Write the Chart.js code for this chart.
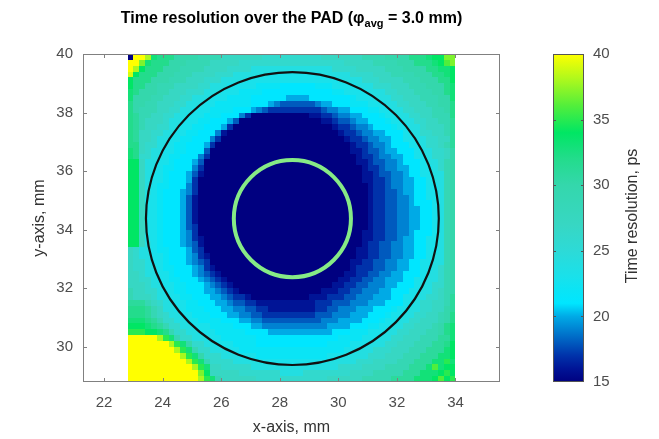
<!DOCTYPE html>
<html>
<head>
<meta charset="utf-8">
<title>Time resolution over the PAD</title>
<script src="https://cdn.jsdelivr.net/npm/chart.js@4.4.1/dist/chart.umd.min.js"></script>
<style>
  html, body { margin: 0; padding: 0; background: #fff; }
  #box { position: relative; width: 659px; height: 439px; }
</style>
</head>
<body>
<div id="box"><canvas id="padChart" width="659" height="439"></canvas></div>
<script>
// == 데이터 == //
const X_TICKS = [22, 24, 26, 28, 30, 32, 34];
const Y_TICKS = [30, 32, 34, 36, 38, 40];
const CB_TICKS = [15, 20, 25, 30, 35, 40];

// map cells: 56 x 56 cells of 0.2 mm, x from 22.8 mm, rows from y = 40 mm downward
const CELL_X0 = 22.8;
const CELL_Y0 = 40.0;
const CELL_SIZE = 0.2;
// run-length rows: level char + count; '0' = 15 ps ... 'p' = 40 ps (1 ps per step)
const LEVELS = '0123456789abcdefghijklmnop';
const LEVEL_MIN = 15;
const MAP_ROWS = [
  '01 p2 n1 i1 h3 f4 e4 c7 b10 c7 e4 f4 h3 i1 j2 m2',
  'p2 m1 i1 h3 f3 e4 c5 b18 c5 e4 f3 h3 i1 j1 l1 m1',
  'p1 n1 j1 h3 f3 e4 c4 b4 914 b4 c5 e3 f4 h2 i2 j1',
  'o1 j1 h3 f3 e3 c4 b3 96 89 95 b4 c3 e4 f3 h2 i1 j1',
  'j1 h3 f3 e3 c3 b3 94 816 94 b3 c4 e3 f3 h2 j1',
  'j1 h2 f2 e3 c4 b2 93 85 74 66 73 84 93 b3 c3 e3 f3 h1 i1',
  'i1 h1 f3 e2 c3 b3 93 83 74 612 72 84 93 b2 c3 e3 f2 h1 i1',
  'i1 f3 e2 c3 b2 93 83 74 66 54 67 71 83 93 b2 c3 e3 f2 i1',
  'h1 f2 e2 c3 b2 93 82 76 63 51 41 36 41 52 63 73 83 92 b2 c3 e2 f2 h1',
  'h1 f1 e3 c2 b2 92 83 74 63 51 41 31 29 31 42 52 63 72 82 92 b2 c3 e2 f1 h1',
  'h1 g1 e2 c2 b2 92 83 73 63 41 21 010 12 22 31 42 52 63 71 82 92 b2 c2 e3 h1',
  'h1 g1 e1 c3 b1 92 83 72 63 51 31 014 12 21 32 41 52 63 71 82 92 b2 c2 e2 g1',
  'h1 g1 e1 c2 b2 92 82 72 63 51 21 017 11 22 31 42 51 63 71 82 92 b1 c3 e1 g1',
  'h1 g1 c2 b2 92 82 72 63 41 11 019 11 22 31 42 52 63 81 92 b2 c2 e1 g1',
  'h1 g1 c2 b1 92 82 72 63 41 21 021 11 22 31 42 52 62 82 92 b2 c2 g1',
  'h2 c1 b2 92 81 72 63 51 21 023 11 22 31 42 51 63 82 91 b2 c1 e1 g1',
  'i1 h1 c1 b1 92 82 72 63 31 024 12 21 32 41 52 63 81 92 b2 c1 f1',
  'i1 h1 b2 92 81 72 63 41 21 025 11 22 31 42 52 62 82 91 b2 c1 f1',
  'j2 c1 92 82 71 63 51 31 026 12 21 32 42 51 63 81 92 b1 e1 f1',
  'j2 c1 92 81 72 63 41 21 027 11 22 31 42 52 62 82 91 b1 e1 f1',
  'j2 c1 91 82 71 63 51 31 11 027 12 21 32 42 51 62 82 92 e1 f1',
  'j2 c1 91 82 71 63 51 21 028 12 22 31 42 52 62 81 92 e1 f1',
  'j2 c1 91 81 72 63 41 21 029 11 22 31 42 52 62 82 91 e1 f1',
  'j2 c1 91 81 71 63 51 41 21 029 11 22 32 41 52 62 82 91 e1 f1',
  'j2 c1 82 71 63 51 31 11 029 11 22 32 42 51 62 82 91 e1 f1',
  'j2 c1 82 71 63 51 31 11 029 11 22 32 42 51 63 81 91 e1 f1',
  'j2 c1 82 71 63 51 31 11 029 11 22 32 42 52 62 81 91 e1 f1',
  'j2 c1 82 71 63 51 31 11 029 11 22 32 42 52 62 81 91 e1 f1',
  'j2 c1 82 71 63 51 31 11 029 11 22 32 42 52 62 81 91 e1 f1',
  'j2 c1 82 71 63 51 31 21 029 11 22 32 42 52 62 81 91 e1 f1',
  'j2 c1 82 71 63 51 41 21 028 12 22 32 42 51 63 81 91 e1 f1',
  'j2 c1 82 71 63 51 41 21 11 027 12 22 32 41 52 62 82 91 e1 f1',
  'j2 c1 91 81 71 63 51 41 31 11 027 11 22 32 42 52 62 82 91 e1 f1',
  'c1 b1 92 81 72 63 51 31 21 026 12 22 32 42 52 62 82 91 e1 f1',
  'c1 b1 92 82 71 63 51 41 21 11 025 12 22 32 42 52 62 81 92 e1 f1',
  'c1 b2 91 82 71 63 51 41 31 21 024 12 22 32 42 52 62 82 92 e1 f1',
  'c1 b2 92 81 72 63 51 41 21 11 023 11 23 32 42 52 62 82 91 b1 e1 f1',
  'c2 b1 92 82 71 63 51 41 31 21 11 021 12 22 32 42 52 63 81 92 b1 e1 f1',
  'c2 b2 91 82 72 63 51 41 31 21 11 019 12 22 32 42 53 62 82 92 b1 e1 f1',
  'c3 b1 92 82 72 63 51 41 31 21 11 017 12 22 32 43 52 63 81 92 b2 e1 f1',
  'e1 c2 b2 91 82 72 63 52 41 31 21 11 014 13 22 32 43 52 63 82 92 b1 c1 e1 f1',
  'e1 c3 b1 92 82 72 63 52 41 31 22 11 010 13 23 32 43 53 62 82 92 b2 c1 e1 g1',
  'g3 e1 c1 b1 92 82 72 63 52 41 32 22 110 23 33 43 53 63 82 91 b2 c2 e1 g1',
  'h3 g1 e1 c1 92 82 73 63 52 42 32 22 18 22 32 43 53 63 71 82 92 b2 c2 f1 g1',
  'h3 g1 e1 c1 b1 92 82 73 63 52 42 32 29 33 43 53 63 71 82 92 b2 c2 e1 f1 h1',
  'i3 h1 g1 e1 b2 92 82 74 63 52 42 310 43 54 63 71 82 92 b2 c3 e1 f1 h1',
  'j3 i1 h1 g1 e1 b2 92 83 74 63 52 411 54 63 72 82 92 b2 c3 e1 f1 h1 i1',
  'k3 j2 i1 h1 e1 b2 92 83 75 64 511 63 73 83 92 b2 c3 e2 f1 h1 i1',
  'p5 n1 k1 i1 e1 b2 93 82 76 614 74 83 92 b2 c3 e3 g2 i1',
  'p7 n1 k1 i1 f1 b2 92 83 74 612 74 83 93 b2 c3 e3 g2 h1 j1',
  'p8 n1 k1 i1 e1 b2 93 82 718 82 93 b3 c3 e3 g3 i1 j1',
  'p9 n1 k1 i1 f1 b3 93 83 712 83 94 b3 c3 e3 g3 i2 j1',
  'p10 n1 k1 i1 e1 b4 95 811 95 b3 c4 e3 g3 i2 k1 i1',
  'p11 n1 k1 i1 c2 b5 915 b4 c4 e4 g3 i1 l1 i1 j2',
  'p12 m1 j1 c5 b7 94 b8 c4 e5 g3 i3 j1 k1 j1',
  'p12 n1 k1 i1 e1 c6 b12 c6 e5 g4 i3 j1 l1 j1 k1'
];

// PAD outline and averaging area (mm)
const PAD_CENTER = [28.43, 34.38];
const PAD_RADIUS = 5.0;
const AVG_RADIUS = 2.0;

// == 색상 맵 == //
const CMAP_VALUES = [15, 16, 17, 18, 19, 20, 21, 22, 23, 25, 27, 30, 32, 34, 36, 38, 40];
const CMAP_COLORS = ['#000080', '#001496', '#0032aa', '#005abe', '#0082d2', '#00aae6', '#00e6ff', '#0ae4f5',
  '#19e1eb', '#2ddad7', '#37d7c3', '#34d7ac', '#23dc8c', '#00e664', '#50ee3c', '#aaf81e', '#ffff00'];

const CMAP_RGB = CMAP_COLORS.map((h) => [1, 3, 5].map((k) => parseInt(h.substr(k, 2), 16)));

function mapColor(v) {
  if (v <= CMAP_VALUES[0]) return CMAP_COLORS[0];
  for (let k = 1; k < CMAP_VALUES.length; k++) {
    if (v <= CMAP_VALUES[k]) {
      const t = (v - CMAP_VALUES[k - 1]) / (CMAP_VALUES[k] - CMAP_VALUES[k - 1]);
      const a = CMAP_RGB[k - 1];
      const b = CMAP_RGB[k];
      return 'rgb(' + a.map((c, n) => Math.round(c + (b[n] - c) * t)).join(',') + ')';
    }
  }
  return CMAP_COLORS[CMAP_COLORS.length - 1];
}

// expand the run-length rows into level values
const MAP_VALUES = MAP_ROWS.map((row) => {
  const out = [];
  row.split(' ').forEach((tok) => {
    const v = LEVEL_MIN + LEVELS.indexOf(tok[0]);
    for (let n = 0; n < parseInt(tok.slice(1), 10); n++) out.push(v);
  });
  return out;
});

const FONT = "'Liberation Sans', Arial, sans-serif";
Chart.defaults.font.family = FONT;

// heat map + circles, drawn through the x / y scales
const padMap = {
  id: 'padMap',
  beforeDatasetsDraw(chart) {
    const { ctx, chartArea: a, scales: { x, y } } = chart;
    ctx.save();
    ctx.beginPath();
    ctx.rect(a.left, a.top, a.right - a.left, a.bottom - a.top);
    ctx.clip();
    MAP_VALUES.forEach((row, j) => {
      const y0 = Math.round(y.getPixelForValue(CELL_Y0 - j * CELL_SIZE));
      const y1 = Math.round(y.getPixelForValue(CELL_Y0 - (j + 1) * CELL_SIZE));
      row.forEach((v, i) => {
        const x0 = Math.round(x.getPixelForValue(CELL_X0 + i * CELL_SIZE));
        const x1 = Math.round(x.getPixelForValue(CELL_X0 + (i + 1) * CELL_SIZE));
        ctx.fillStyle = mapColor(v);
        ctx.fillRect(x0, y0, x1 - x0, y1 - y0);
      });
    });

    const cx = x.getPixelForValue(PAD_CENTER[0]);
    const cy = y.getPixelForValue(PAD_CENTER[1]);
    const ring = (r, color, w) => {
      ctx.beginPath();
      ctx.ellipse(cx, cy, Math.abs(x.getPixelForValue(PAD_CENTER[0] + r) - cx),
        Math.abs(y.getPixelForValue(PAD_CENTER[1] + r) - cy), 0, 0, Math.PI * 2);
      ctx.strokeStyle = color;
      ctx.lineWidth = w;
      ctx.stroke();
    };
    ring(PAD_RADIUS, '#111111', 2.2);
    ring(AVG_RADIUS, '#86ea86', 4);
    ctx.restore();
  },
  afterDraw(chart) {
    const { ctx, chartArea: a, scales: { x, y, cb } } = chart;
    ctx.save();
    // axes box with inward ticks
    ctx.strokeStyle = '#808080';
    ctx.lineWidth = 1;
    ctx.strokeRect(a.left + 0.5, a.top + 0.5, a.right - a.left - 1, a.bottom - a.top - 1);
    ctx.beginPath();
    x.ticks.forEach((t) => {
      const px = Math.round(x.getPixelForValue(t.value)) + 0.5;
      ctx.moveTo(px, a.bottom); ctx.lineTo(px, a.bottom - 4);
      ctx.moveTo(px, a.top); ctx.lineTo(px, a.top + 4);
    });
    y.ticks.forEach((t) => {
      const py = Math.round(y.getPixelForValue(t.value)) + 0.5;
      ctx.moveTo(a.left, py); ctx.lineTo(a.left + 4, py);
      ctx.moveTo(a.right, py); ctx.lineTo(a.right - 4, py);
    });
    ctx.stroke();

    // colour bar
    const bl = cb.left + 53;
    const bw = 31;
    const top = cb.getPixelForValue(40);
    const bottom = cb.getPixelForValue(15);
    const grad = ctx.createLinearGradient(0, bottom, 0, top);
    CMAP_VALUES.forEach((v, k) => grad.addColorStop((v - 15) / 25, CMAP_COLORS[k]));
    ctx.fillStyle = grad;
    ctx.fillRect(bl, top, bw, bottom - top);
    ctx.strokeStyle = '#555555';
    ctx.strokeRect(bl + 0.5, top + 0.5, bw - 1, bottom - top - 1);
    ctx.beginPath();
    CB_TICKS.slice(1, -1).forEach((v) => {
      const py = Math.round(cb.getPixelForValue(v)) + 0.5;
      ctx.moveTo(bl, py); ctx.lineTo(bl + 3, py);
      ctx.moveTo(bl + bw, py); ctx.lineTo(bl + bw - 3, py);
    });
    ctx.stroke();

    // titles
    ctx.fillStyle = '#000';
    const big = 'bold 16px ' + FONT;
    const small = 'bold 11px ' + FONT;
    const p1 = 'Time resolution over the PAD (\u03c6';
    const p2 = 'avg';
    const p3 = ' = 3.0 mm)';
    ctx.font = big;
    const w1 = ctx.measureText(p1).width;
    const w3 = ctx.measureText(p3).width;
    ctx.font = small;
    const w2 = ctx.measureText(p2).width;
    let tx = (a.left + a.right) / 2 - (w1 + w2 + w3) / 2;
    ctx.textBaseline = 'alphabetic';
    ctx.textAlign = 'left';
    ctx.font = big; ctx.fillText(p1, tx, 23); tx += w1;
    ctx.font = small; ctx.fillText(p2, tx, 27); tx += w2;
    ctx.font = big; ctx.fillText(p3, tx, 23);

    ctx.fillStyle = '#333333';
    ctx.font = '16px ' + FONT;
    ctx.textAlign = 'center';
    ctx.textBaseline = 'middle';
    ctx.fillText('x-axis, mm', (a.left + a.right) / 2, 428);
    ctx.save();
    ctx.translate(40, (a.top + a.bottom) / 2);
    ctx.rotate(-Math.PI / 2);
    ctx.fillText('y-axis, mm', 0, 0);
    ctx.restore();
    ctx.save();
    ctx.translate(633, 216);
    ctx.rotate(-Math.PI / 2);
    ctx.fillText('Time resolution, ps', 0, 0);
    ctx.restore();
    ctx.restore();
  }
};

const TICK_FONT = { size: 15 };
const TICK_COLOR = '#4d4d4d';

// fixed box sizes; label paddings must not push the plot area
function fixSize(prop, size) {
  return (s) => {
    s[prop] = size;
    s.paddingTop = 0; s.paddingBottom = 0; s.paddingLeft = 0; s.paddingRight = 0;
  };
}

new Chart(document.getElementById('padChart'), {
  type: 'scatter',
  data: { datasets: [] },
  options: {
    responsive: false,
    animation: false,
    layout: { padding: { top: 54, left: 0, right: 0, bottom: 0 } },
    plugins: { legend: { display: false }, tooltip: { enabled: false } },
    scales: {
      x: {
        type: 'linear', position: 'bottom', min: 21.28, max: 35.52,
        afterBuildTicks: (s) => { s.ticks = X_TICKS.map((v) => ({ value: v })); },
        afterFit: fixSize('height', 57),
        grid: { display: false, drawTicks: false }, border: { display: false },
        ticks: { font: TICK_FONT, color: TICK_COLOR, padding: 12, maxRotation: 0 }
      },
      y: {
        type: 'linear', position: 'left', min: 28.8, max: 40,
        afterBuildTicks: (s) => { s.ticks = Y_TICKS.map((v) => ({ value: v })); },
        afterFit: fixSize('width', 83),
        grid: { display: false, drawTicks: false }, border: { display: false },
        ticks: { font: TICK_FONT, color: TICK_COLOR, padding: 10 }
      },
      cb: {
        type: 'linear', position: 'right', min: 15, max: 40,
        afterBuildTicks: (s) => { s.ticks = CB_TICKS.map((v) => ({ value: v })); },
        afterFit: fixSize('width', 159),
        grid: { display: false, drawTicks: false }, border: { display: false },
        ticks: { font: TICK_FONT, color: TICK_COLOR, padding: 93 }
      }
    }
  },
  plugins: [padMap]
});
</script>
</body>
</html>
